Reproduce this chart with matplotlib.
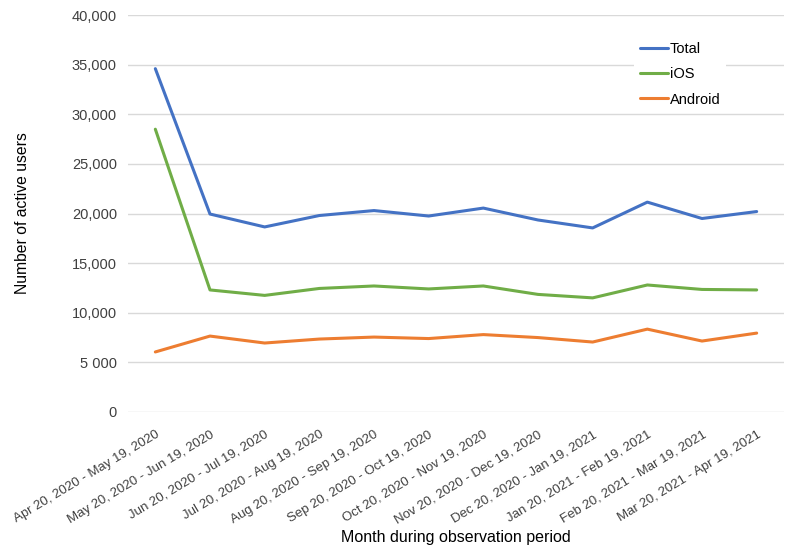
import matplotlib.pyplot as plt
from matplotlib.ticker import FixedLocator

plt.rcParams['font.family'] = ['Liberation Sans', 'DejaVu Sans']

# --- данные ---
periods = [
    'Apr 20, 2020 - May 19, 2020', 'May 20, 2020 - Jun 19, 2020',
    'Jun 20, 2020 - Jul 19, 2020', 'Jul 20, 2020 - Aug 19, 2020',
    'Aug 20, 2020 - Sep 19, 2020', 'Sep 20, 2020 - Oct 19, 2020',
    'Oct 20, 2020 - Nov 19, 2020', 'Nov 20, 2020 - Dec 19, 2020',
    'Dec 20, 2020 - Jan 19, 2021', 'Jan 20, 2021 - Feb 19, 2021',
    'Feb 20, 2021 - Mar 19, 2021', 'Mar 20, 2021 - Apr 19, 2021',
]
total = [34600, 19950, 18650, 19800, 20300, 19750, 20550, 19350, 18550, 21150, 19500, 20200]
ios = [28500, 12300, 11750, 12450, 12700, 12400, 12700, 11850, 11500, 12800, 12350, 12300]
android = [6050, 7650, 6950, 7350, 7550, 7400, 7800, 7500, 7050, 8350, 7150, 7950]
y_ticks = [0, 5000, 10000, 15000, 20000, 25000, 30000, 35000, 40000]
y_tick_labels = ['0', '5 000', '10,000', '15,000', '20,000', '25,000', '30,000', '35,000', '40,000']

fig = plt.figure(figsize=(8, 5.59), dpi=100)
ax = fig.add_axes([0.16, 0.263, 0.82, 0.71])

x = range(len(periods))
ax.plot(x, total, color='#4472C4', lw=2.2, label='Total', solid_capstyle='round')
ax.plot(x, ios, color='#70AD47', lw=2.2, label='iOS', solid_capstyle='round')
ax.plot(x, android, color='#ED7D31', lw=2.2, label='Android', solid_capstyle='round')

ax.set_xlim(-0.5, len(periods) - 0.5)
ax.set_ylim(0, 40000)
ax.yaxis.set_major_locator(FixedLocator(y_ticks))
ax.set_yticklabels(y_tick_labels, fontsize=10.5, color='#404040')
ax.set_xticks(list(x))
ax.set_xticklabels(periods, rotation=31, ha='right', rotation_mode='anchor',
                   fontsize=9.5, color='#404040')
ax.tick_params(length=0, pad=8)
ax.tick_params(axis='x', pad=12)

ax.grid(axis='y', color='#D9D9D9', lw=1)
ax.set_axisbelow(True)
for s in ax.spines.values():
    s.set_visible(False)

ax.set_ylabel('Number of active users', fontsize=11.3, labelpad=30)
ax.set_xlabel('Month during observation period', fontsize=11.5, labelpad=3)

leg = ax.legend(loc='upper left', bbox_to_anchor=(634 / 800, 1 - 36 / 559),
                bbox_transform=fig.transFigure, frameon=True,
                fontsize=10.5, handlelength=1.9, handletextpad=0.15,
                labelspacing=0.78, borderaxespad=0, borderpad=0.4)
leg.get_frame().set_edgecolor('none')
leg.get_frame().set_facecolor('white')
leg.get_frame().set_alpha(1)

fig.savefig('out.png', dpi=100)
